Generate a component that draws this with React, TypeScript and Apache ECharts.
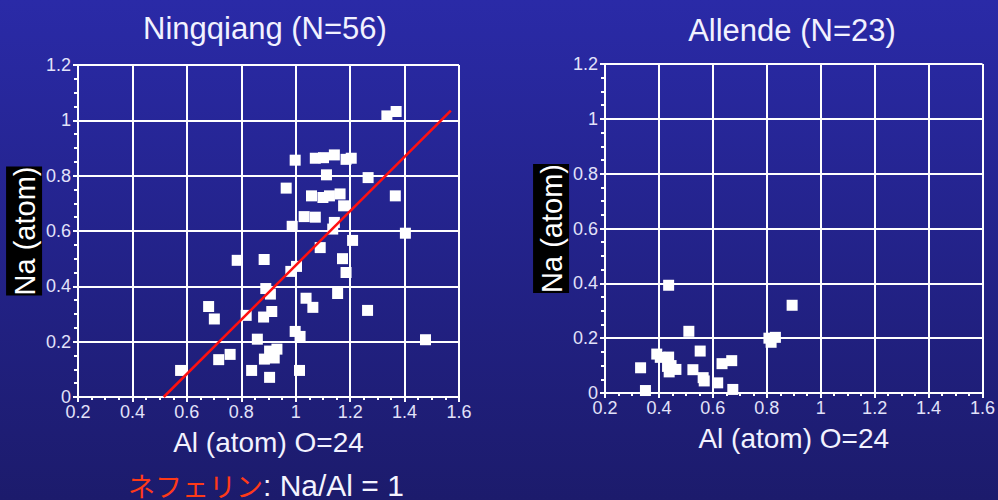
import React, { useEffect, useRef } from "react";
import * as echarts from "echarts";

// Ningqiang (N=56): [Al, Na]
const ningqiangAl = [
  0.577, 0.68, 0.701, 0.717, 0.759, 0.785, 0.818, 0.838, 0.859, 0.882,
  0.884, 0.89, 0.907, 0.912, 0.885, 0.904, 0.904, 0.921, 0.931, 0.965,
  0.987, 0.998, 0.982, 1.003, 0.998, 1.016, 1.014, 1.031, 1.038, 1.058,
  1.063, 1.072, 1.072, 1.09, 1.1, 1.102, 1.113, 1.124, 1.142, 1.142,
  1.136, 1.154, 1.163, 1.176, 1.172, 1.185, 1.185, 1.204, 1.209, 1.266,
  1.264, 1.335, 1.369, 1.366, 1.403, 1.477,
];
const ningqiangNa = [
  0.096, 0.327, 0.282, 0.135, 0.154, 0.494, 0.295, 0.096, 0.209, 0.289,
  0.497, 0.392, 0.372, 0.309, 0.137, 0.166, 0.071, 0.141, 0.173, 0.755,
  0.617, 0.856, 0.454, 0.472, 0.237, 0.219, 0.096, 0.652, 0.357, 0.727,
  0.324, 0.65, 0.863, 0.54, 0.721, 0.865, 0.803, 0.727, 0.875, 0.631,
  0.607, 0.374, 0.734, 0.691, 0.5, 0.45, 0.859, 0.863, 0.566, 0.793,
  0.313, 1.016, 1.032, 0.727, 0.592, 0.207,
];

// Allende (N=23): [Al, Na]
const allendeAl = [
  0.332, 0.35, 0.392, 0.405, 0.436, 0.432, 0.438, 0.445, 0.463, 0.436,
  0.511, 0.526, 0.553, 0.564, 0.568, 0.618, 0.634, 0.67, 0.674, 0.808,
  0.816, 0.832, 0.894,
];
const allendeNa = [
  0.092, 0.009, 0.142, 0.13, 0.131, 0.097, 0.077, 0.1, 0.086, 0.393,
  0.225, 0.085, 0.153, 0.056, 0.044, 0.037, 0.107, 0.118, 0.013, 0.2,
  0.185, 0.203, 0.32,
];

// Nepheline reference line (Na/Al = 1 trend) endpoints
const lineAl = [0.515, 1.57];
const lineNa = [0, 1.035];

const titles = ["Ningqiang (N=56)", "Allende (N=23)"];
const xName = "Al (atom) O=24";
const yName = "Na (atom)";

const FONT = "'Liberation Sans', Arial, sans-serif";
const LABEL = "#e2e2fa";

function makeXAxis(gridIndex: number) {
  return {
    type: "value",
    gridIndex,
    min: 0.2,
    max: 1.6,
    interval: 0.2,
    name: xName,
    nameLocation: "middle",
    nameGap: 31,
    nameTextStyle: { color: "#f2f2ff", fontSize: 28, fontFamily: FONT },
    axisLine: { show: true, lineStyle: { color: "#ffffff", width: 2 } },
    axisTick: { show: true, length: 5, lineStyle: { color: "#ffffff", width: 2 } },
    minorTick: { show: true, splitNumber: 4, length: 3, lineStyle: { color: "#ffffff", width: 2 } },
    axisLabel: { color: LABEL, fontSize: 18, fontFamily: FONT, margin: 6 },
    splitLine: { show: true, lineStyle: { color: "#ffffff", width: 2 } },
  };
}

function makeYAxis(gridIndex: number) {
  return {
    type: "value",
    gridIndex,
    min: 0,
    max: 1.2,
    interval: 0.2,
    name: yName,
    nameLocation: "middle",
    nameRotate: 90,
    nameGap: 35,
    nameTextStyle: {
      color: "#ffffff",
      fontSize: 29,
      fontFamily: FONT,
      backgroundColor: "#000000",
      padding: [3, 0, 1, 0],
      lineHeight: 32,
    },
    axisLine: { show: true, lineStyle: { color: "#ffffff", width: 2 } },
    axisTick: { show: true, length: 5, lineStyle: { color: "#ffffff", width: 2 } },
    minorTick: { show: true, splitNumber: 4, length: 4, lineStyle: { color: "#ffffff", width: 2 } },
    axisLabel: { color: LABEL, fontSize: 18, fontFamily: FONT, margin: 7 },
    splitLine: { show: true, lineStyle: { color: "#ffffff", width: 2 } },
  };
}

export default function App() {
  const ref = useRef<HTMLDivElement>(null);

  useEffect(() => {
    document.body.style.margin = "0";
    if (!ref.current) return;
    const chart = echarts.init(ref.current, null, { renderer: "svg" });
    const pts = (xs: number[], ys: number[]) => xs.map((x, i) => [x, ys[i]]);
    chart.setOption({
      animation: false,
      backgroundColor: new echarts.graphic.LinearGradient(0, 0, 0, 1, [
        { offset: 0, color: "#2a2aa7" },
        { offset: 1, color: "#1c1b6c" },
      ]),
      grid: [
        { left: 78, right: 539, top: 65, bottom: 103 },
        { left: 605, right: 11, top: 64, bottom: 107 },
      ],
      xAxis: [makeXAxis(0), makeXAxis(1)],
      yAxis: [makeYAxis(0), makeYAxis(1)],
      graphic: [
        {
          type: "text",
          x: 265,
          y: 44,
          style: {
            text: titles[0],
            fill: "#f2f2ff",
            font: `31px ${FONT}`,
            textAlign: "center",
            verticalAlign: "bottom",
          },
        },
        {
          type: "text",
          x: 792,
          y: 46,
          style: {
            text: titles[1],
            fill: "#f2f2ff",
            font: `31px ${FONT}`,
            textAlign: "center",
            verticalAlign: "bottom",
          },
        },
        {
          type: "text",
          x: 128,
          y: 500,
          style: {
            text: "{r|ネフェリン}{w|: Na/Al = 1}",
            verticalAlign: "bottom",
            textAlign: "left",
            rich: {
              r: {
                fill: "#ff3a18",
                fontSize: 27,
                fontFamily: "'Noto Sans CJK JP', sans-serif",
              },
              w: { fill: "#f4f4ff", fontSize: 30, fontFamily: FONT },
            },
          },
        },
      ],
      series: [
        {
          type: "scatter",
          xAxisIndex: 0,
          yAxisIndex: 0,
          symbol: "rect",
          symbolSize: 11,
          itemStyle: { color: "#ffffff", opacity: 1 },
          data: pts(ningqiangAl, ningqiangNa),
          z: 3,
        },
        {
          type: "line",
          xAxisIndex: 0,
          yAxisIndex: 0,
          showSymbol: false,
          symbol: "none",
          lineStyle: { color: "#ff1010", width: 2.5 },
          data: pts(lineAl, lineNa),
          z: 4,
        },
        {
          type: "scatter",
          xAxisIndex: 1,
          yAxisIndex: 1,
          symbol: "rect",
          symbolSize: 11,
          itemStyle: { color: "#ffffff", opacity: 1 },
          data: pts(allendeAl, allendeNa),
          z: 3,
        },
      ],
    });
    return () => chart.dispose();
  }, []);

  return <div ref={ref} style={{ width: 998, height: 500 }} />;
}
